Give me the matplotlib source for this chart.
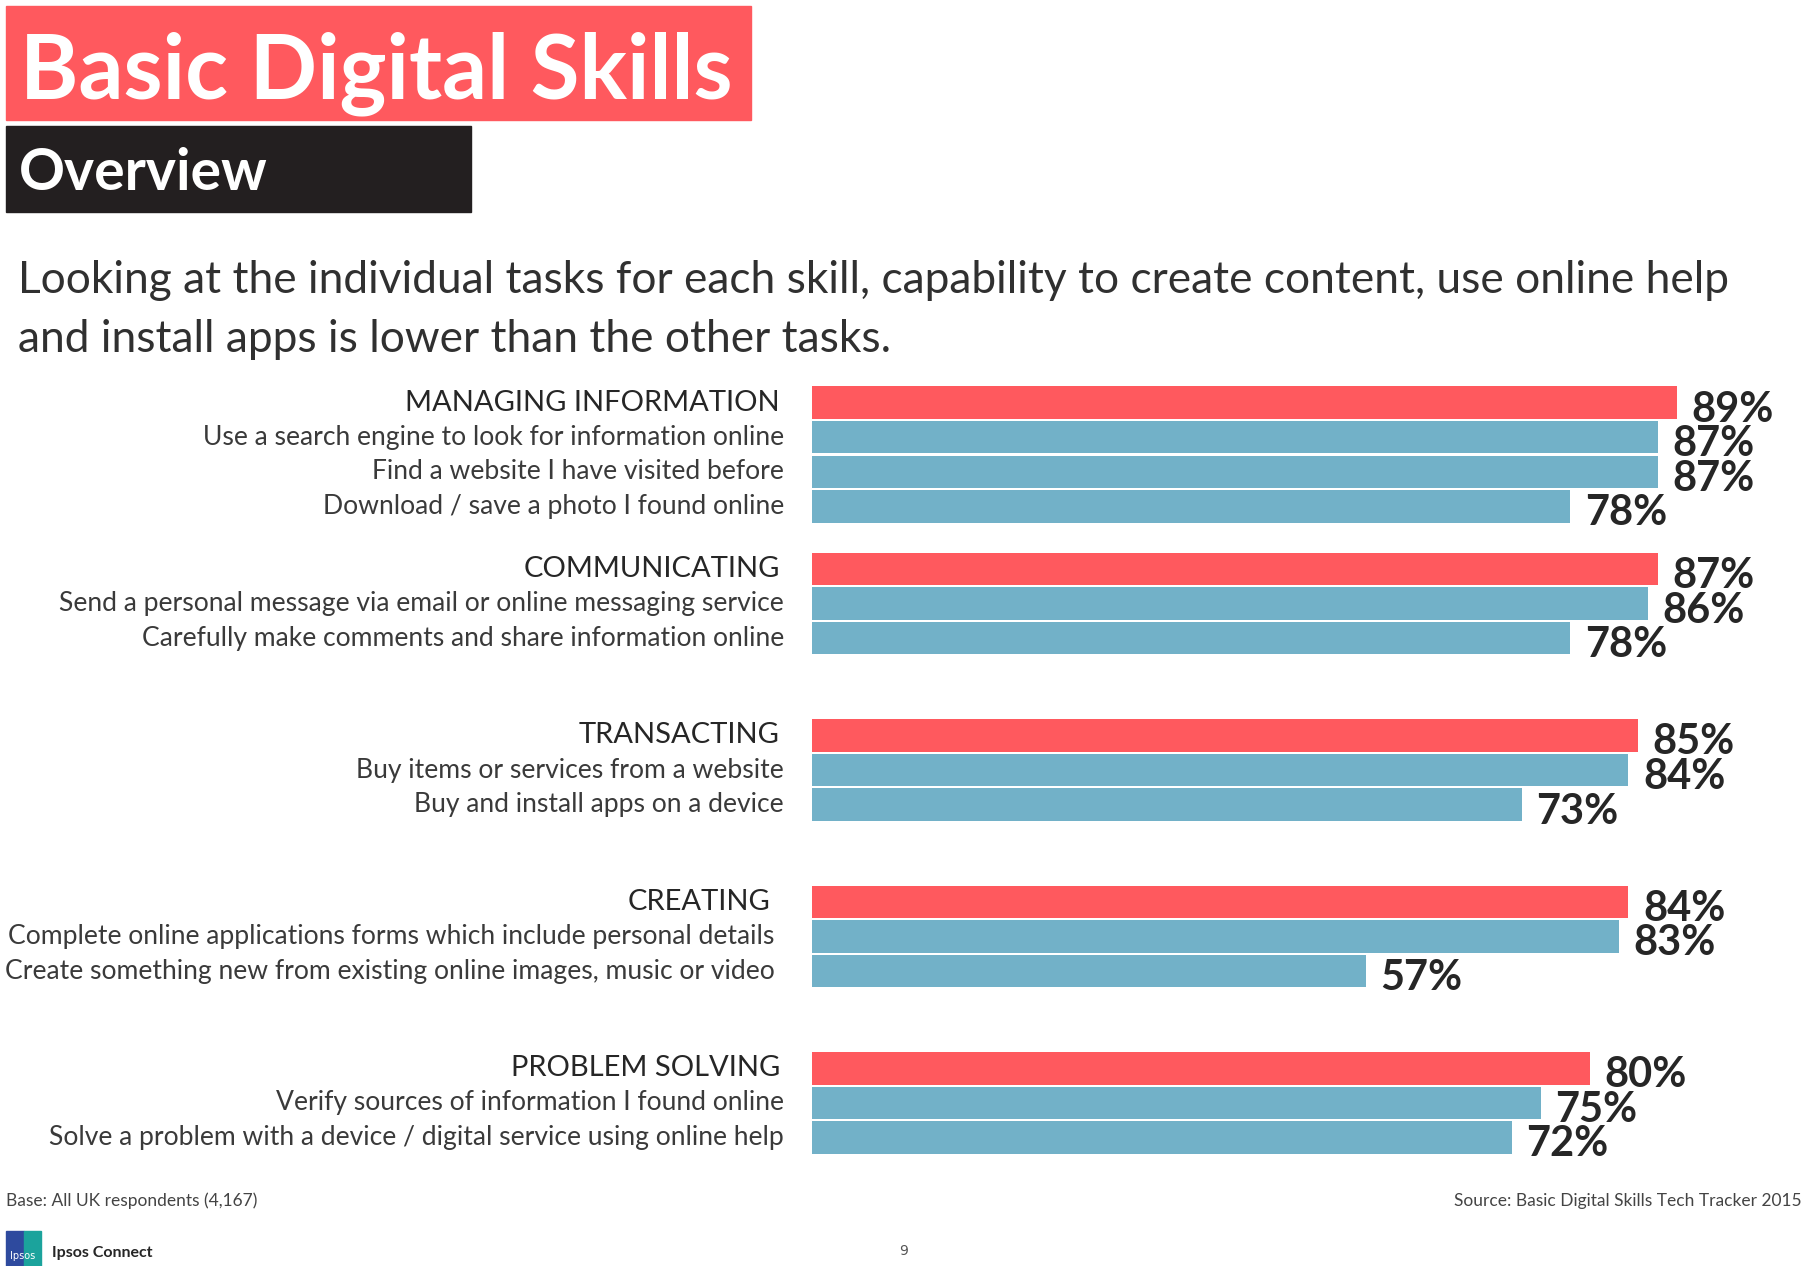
import matplotlib
matplotlib.use("Agg")
import matplotlib.pyplot as plt
from matplotlib.patches import Rectangle

# Data
groups = ["MANAGING INFORMATION", "COMMUNICATING", "TRANSACTING", "CREATING", "PROBLEM SOLVING"]
group_values = [89, 87, 85, 84, 80]
items = [
    ["Use a search engine to look for information online",
     "Find a website I have visited before",
     "Download / save a photo I found online"],
    ["Send a personal message via email or online messaging service",
     "Carefully make comments and share information online"],
    ["Buy items or services from a website",
     "Buy and install apps on a device"],
    ["Complete online applications forms which include personal details",
     "Create something new from existing online images, music or video"],
    ["Verify sources of information I found online",
     "Solve a problem with a device / digital service using online help"],
]
item_values = [[87, 87, 78], [86, 78], [84, 73], [83, 57], [75, 72]]

title = "Basic Digital Skills"
subtitle = "Overview"
headline = ("Looking at the individual tasks for each skill, capability to create content, use online help\n"
            "and install apps is lower than the other tasks.")
base_note = "Base: All UK respondents (4,167)"
source_note = "Source: Basic Digital Skills Tech Tracker 2015"

RED = "#FF595E"
BLUE = "#72B1C8"
DARK = "#231F20"
TEXT = "#262626"
FONT = "Lato"

W, H = 1809, 1266
fig = plt.figure(figsize=(W / 100, H / 100), dpi=100)

# overlay in pixel coordinates for header / footer
ov = fig.add_axes([0, 0, 1, 1])
ov.set_xlim(0, W)
ov.set_ylim(H, 0)
ov.axis("off")

ov.add_patch(Rectangle((6, 6), 745, 114, color=RED))
ov.text(20, 98, title, color="white", fontsize=64, fontweight="bold",
        family=FONT, va="baseline", ha="left")
ov.add_patch(Rectangle((6, 126), 465, 86, color=DARK))
ov.text(19, 190, subtitle, color="white", fontsize=41, fontweight="bold",
        family=FONT, va="baseline", ha="left")
ov.text(18, 310, headline, color="#303030", fontsize=31.9, family=FONT,
        va="center", ha="left", linespacing=1.55)

ov.text(6, 1201, base_note, color="#444444", fontsize=12.5, family=FONT,
        va="center", ha="left")
ov.text(1802, 1201, source_note, color="#444444", fontsize=12.5, family=FONT,
        va="center", ha="right")
ov.text(904, 1251, "9", color="#555555", fontsize=10, va="center", ha="center")
ov.add_patch(Rectangle((6, 1231), 18, 35, color="#2E4A9E"))
ov.add_patch(Rectangle((24, 1231), 17, 35, color="#1BA39C"))
ov.text(23, 1256, "Ipsos", color="white", fontsize=7, va="center", ha="center")
ov.text(52, 1253, "Ipsos Connect", color=TEXT, fontsize=11.5, fontweight="bold",
        family=FONT, va="center", ha="left")

# bar chart
ax = fig.add_axes([812 / W, (H - 1160) / H, 972 / W, 780 / H])
ax.set_xlim(0, 100)
ax.set_ylim(21.89, -0.653)
ax.axis("off")

group_step = 4.81
bar_h = 0.94
label_shift = [0, 0, 0, -1.0, 0]
for g, name in enumerate(groups):
    y0 = g * group_step
    ax.barh(y0, group_values[g], height=bar_h, color=RED)
    ax.text(group_values[g] + 1.5, y0 + 0.2, f"{group_values[g]}%", fontsize=30,
            fontweight="bold", family=FONT, color=TEXT, va="center", ha="left")
    ax.text(-3.3 + label_shift[g], y0, name, fontsize=21, family=FONT,
            color=TEXT, va="center", ha="right", clip_on=False)
    for i, (lab, v) in enumerate(zip(items[g], item_values[g])):
        y = y0 + i + 1
        ax.barh(y, v, height=bar_h, color=BLUE)
        ax.text(v + 1.5, y + 0.2, f"{v}%", fontsize=30, fontweight="bold",
                family=FONT, color=TEXT, va="center", ha="left")
        ax.text(-2.88 + label_shift[g], y, lab, fontsize=19.1,
                family=FONT, color="#3a3a3a", va="center", ha="right", clip_on=False)

fig.savefig("out.png", dpi=100)
